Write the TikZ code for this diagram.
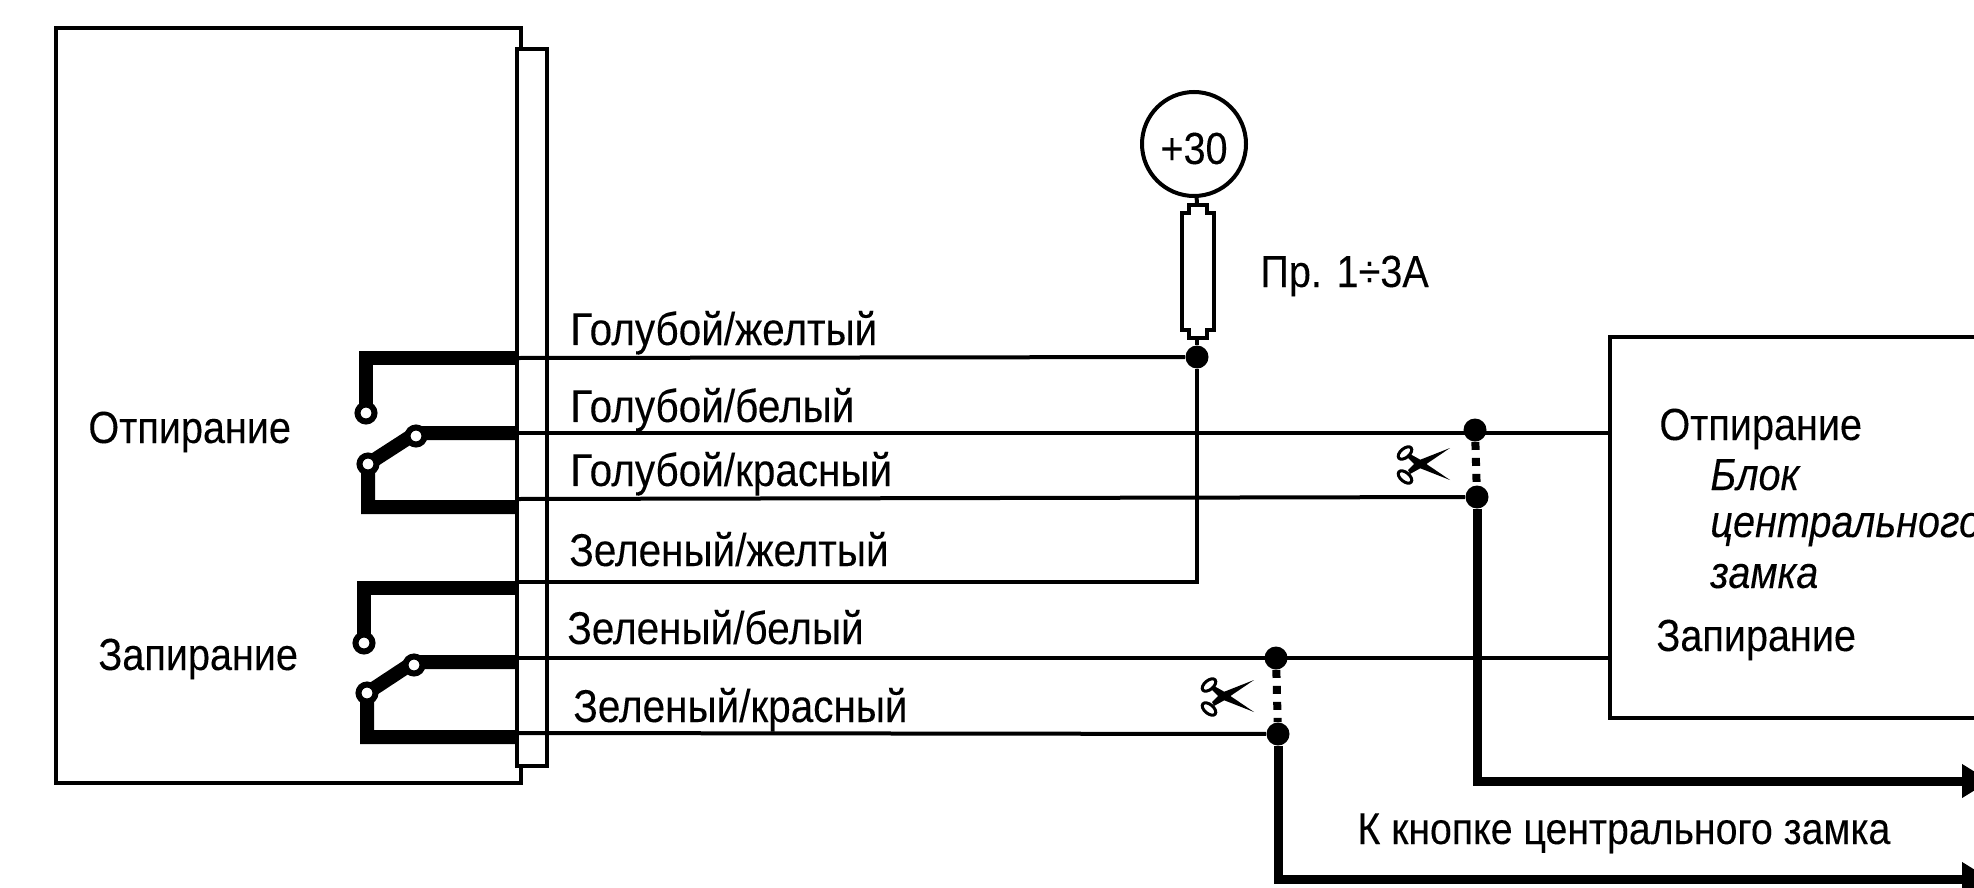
\documentclass[tikz,border=0pt]{standalone}
\usepackage{fontspec}
\setmainfont[FakeStretch=0.88, FakeBold=0.12]{Liberation Sans}
\usetikzlibrary{arrows.meta, backgrounds}

\tikzset{
	scissors/.pic={
		\fill (-10,-10) -- (-1,-5) -- (30,16) -- (-3,3) -- (-12,-6) -- cycle;
		\fill (-10,10) -- (-1,5) -- (30,-16) -- (-3,-3) -- (-12,6) -- cycle;
		\draw[line width=1.5pt, rotate around={40:(-15,-11)}] (-15,-11) ellipse (8 and 4.5);
		\draw[line width=1.5pt, rotate around={-40:(-15,13)}] (-15,13) ellipse (8 and 4.5);
	}
}

\begin{document}
\begin{tikzpicture}[x=0.5pt, y=-0.5pt,
	wire/.style={line width=2pt},
	bus/.style={line width=4.5pt},
	contact/.style={line width=7pt, line join=miter},
	cut/.style={line width=4pt, dash pattern=on 4pt off 4pt},
	junction/.style={circle, fill, inner sep=0pt, minimum size=11.5pt},
	opendot/.style={circle, draw, fill=white, line width=3pt, inner sep=0pt, minimum size=8.5pt},
	lbl/.style={anchor=base west, inner sep=0pt, font=\fontsize{22.5}{26}\selectfont},
	wirelbl/.style={lbl, font=\fontsize{23}{26}\selectfont},
	ital/.style={lbl, font=\fontsize{22.5}{26}\selectfont\itshape},
	tip/.style={-{Triangle[length=14pt, width=16pt]}}]
	\clip (0,0) rectangle (1974,888);

	\node[draw, line width=2pt, inner sep=0pt, minimum width=232.5pt, minimum height=377.5pt] (unit) at (288.5,405.5) {};
	\node[draw, fill=white, line width=2pt, inner sep=0pt, minimum width=15pt, minimum height=358.5pt] (strip) at (532,407.5) {};

	\coordinate (a1) at (518,358);
	\coordinate (a2) at (518,433);
	\coordinate (a3) at (518,499);
	\coordinate (a4) at (518,507);
	\coordinate (b1) at (518,582);
	\coordinate (b2) at (518,588);
	\coordinate (b3) at (518,658);
	\coordinate (b4) at (518,662);
	\coordinate (b5) at (518,733);
	\coordinate (b6) at (518,737);
	\coordinate (boxtop) at (1974,337);
	\coordinate (boxbot) at (1974,718);
	\coordinate (endb) at (1990,781);
	\coordinate (endg) at (1990,879);

	\node[junction] (feed) at (1197,357) {};
	\node[junction] (jbw) at (1475,430) {};
	\node[junction] (jbr) at (1477,497) {};
	\node[junction] (jgw) at (1276,658) {};
	\node[junction] (jgr) at (1278,734) {};

	\draw[wire] (a1) -- (feed);
	\draw[wire] (feed) |- (b1);
	\draw[wire] (a2) -- (1610,433);
	\draw[wire] (a3) -- (jbr);
	\draw[wire] (b3) -- (1610,658);
	\draw[wire] (b5) -- (jgr);

	\draw[cut] (jbw) -- (jbr);
	\draw[cut] (jgw) -- (jgr);
	\pic at (1420,464) {scissors};
	\pic at (1224,696) {scissors};

	\draw[bus, tip] (jbr) |- (endb);
	\draw[bus, tip] (jgr) |- (endg);

	\node[opendot] (k1) at (366,413) {};
	\node[opendot] (k2) at (416,436) {};
	\node[opendot] (k3) at (368,464) {};
	\node[opendot] (k4) at (364,643) {};
	\node[opendot] (k5) at (414,665) {};
	\node[opendot] (k6) at (367,693) {};
	\begin{pgfonlayer}{background}
	\draw[contact] (a1) -| (k1.center);
	\draw[contact] (a2) -- (k2.center |- a2) -- (k3.center) -- (k3.center |- a4) -- (a4);
	\draw[contact] (b2) -| (k4.center);
	\draw[contact] (b4) -- (k5.center |- b4) -- (k6.center) -- (k6.center |- b6) -- (b6);
	\end{pgfonlayer}

	\node[circle, draw, line width=2pt, inner sep=0pt, minimum size=52pt] (plus) at (1194,144) {};
	\node[lbl, anchor=base] (pluslbl) at (1194,164) {+30};
	\draw[line width=2pt] (1189,205) -- (1207,205) -- (1207,213) -- (1214,213) -- (1214,330) -- (1207,330) -- (1207,338) -- (1189,338) -- (1189,330) -- (1182,330) -- (1182,213) -- (1189,213) -- cycle;
	\coordinate (fusetop) at (1197,205);
	\coordinate (fusebot) at (1197,338);
	\draw[wire] (plus) -- (fusetop);
	\draw[wire] (fusebot) -- (feed);
	\node[lbl] (fuselbl) at (1260,287) {Пр. 1÷3А};

	\node[wirelbl] (t1) at (570,345) {Голубой/желтый};
	\node[wirelbl] (t2) at (570,422) {Голубой/белый};
	\node[wirelbl] (t3) at (570,486) {Голубой/красный};
	\node[wirelbl] (t4) at (569,566) {Зеленый/желтый};
	\node[wirelbl] (t5) at (567,644) {Зеленый/белый};
	\node[wirelbl] (t6) at (573,722) {Зеленый/красный};
	\node[lbl] (open) at (88,443) {Отпирание};
	\node[lbl] (lock) at (98,670) {Запирание};

	\draw[wire] (boxtop) -- (1610,337) -- (1610,718) -- (boxbot);
	\node[lbl] (open2) at (1659,440) {Отпирание};
	\node[ital] (name1) at (1710,490) {Блок};
	\node[ital] (name2) at (1710,537) {центрального};
	\node[ital] (name3) at (1710,588) {замка};
	\node[lbl] (lock2) at (1656,651) {Запирание};
	\node[lbl, font=\fontsize{22.3}{26}\selectfont] (button) at (1357,844) {К кнопке центрального замка};
\end{tikzpicture}
\end{document}
